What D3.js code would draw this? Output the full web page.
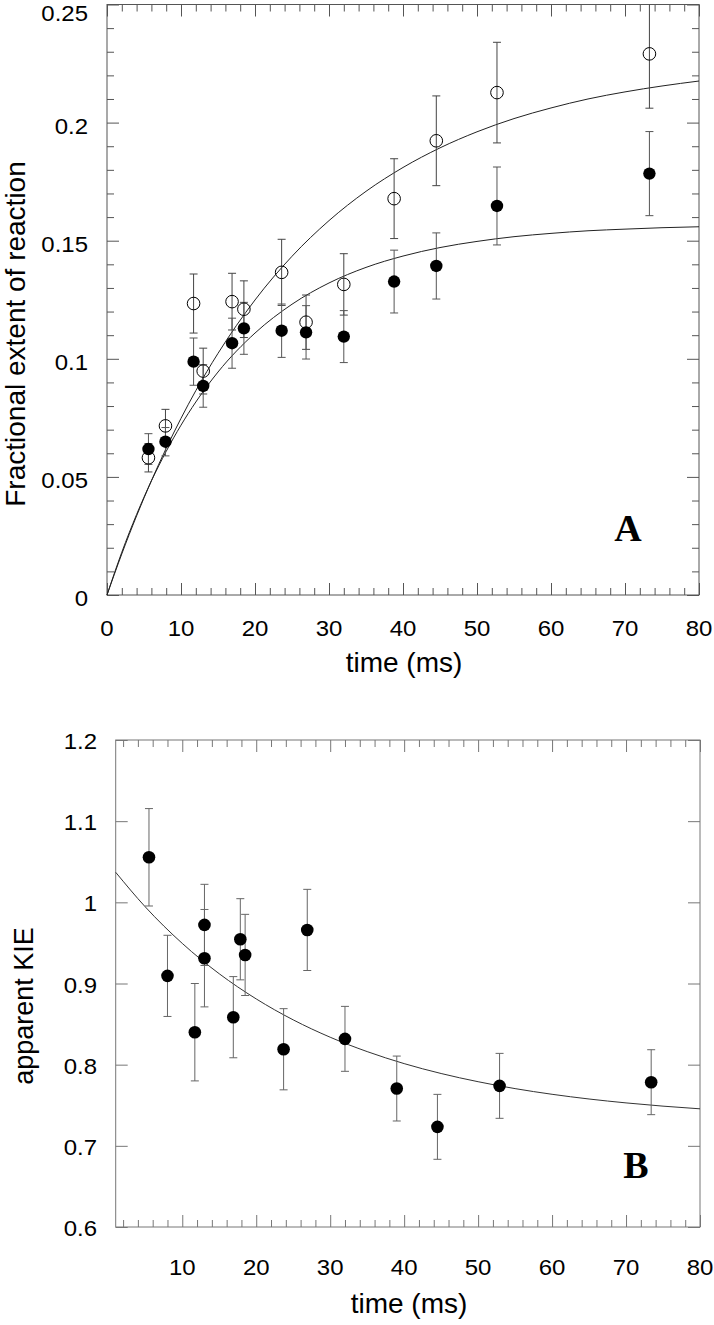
<!DOCTYPE html>
<html><head><meta charset="utf-8">
<script src="https://cdn.jsdelivr.net/npm/d3@7"></script>
<style>
html,body{margin:0;padding:0;background:#fff;}
svg{display:block;}
text{font-family:"Liberation Sans",Arial,Helvetica,sans-serif;fill:#000;}
</style></head>
<body>
<svg id="chart" width="714" height="1325"></svg>
<script>
// ---------- Panel A data ----------
const timeA      = [5.6, 7.9, 11.7, 13.0, 16.9, 18.5, 23.6, 26.9, 32.0, 38.8, 44.5, 52.7, 73.3];
const openA      = [0.0581, 0.0716, 0.1234, 0.0948, 0.1242, 0.1210, 0.1366, 0.1155, 0.1315, 0.1678, 0.1923, 0.2127, 0.2291];
const openErrA   = [0.006, 0.007, 0.0125, 0.0097, 0.012, 0.012, 0.014, 0.0115, 0.013, 0.0169, 0.019, 0.0213, 0.023];
const filledA    = [0.0618, 0.0649, 0.0988, 0.0885, 0.1066, 0.1129, 0.1119, 0.1112, 0.1094, 0.1327, 0.1393, 0.1647, 0.1784];
const filledErrA = [0.0065, 0.006, 0.010, 0.009, 0.0106, 0.011, 0.0113, 0.0113, 0.011, 0.0133, 0.014, 0.0165, 0.0178];
// fitted curves
const fitTimeA   = [0, 2, 4, 6, 8, 10, 12, 15, 20, 25, 30, 35, 40, 45, 50, 55, 60, 65, 70, 75, 80];
const fitOpenA   = [0, 0.0174, 0.0335, 0.0484, 0.0621, 0.0748, 0.0865, 0.1023, 0.1249, 0.1434, 0.1585, 0.1709, 0.1810, 0.1893, 0.1961, 0.2017, 0.2062, 0.2100, 0.2130, 0.2155, 0.2176];
const fitFilledA = [0, 0.0181, 0.0341, 0.0483, 0.0608, 0.0719, 0.0817, 0.0944, 0.1109, 0.1231, 0.1321, 0.1387, 0.1435, 0.1471, 0.1497, 0.1517, 0.1531, 0.1542, 0.1549, 0.1555, 0.1559];
const xTicksA = [0, 10, 20, 30, 40, 50, 60, 70, 80];
const yTicksA = [0, 0.05, 0.1, 0.15, 0.2, 0.25];
const yTickLabelsA = ["0", "0.05", "0.1", "0.15", "0.2", "0.25"];

// ---------- Panel B data ----------
const timeB = [5.5, 8.0, 11.7, 13.0, 13.0, 16.9, 17.85, 18.5, 23.7, 26.9, 32.0, 39.0, 44.5, 52.9, 73.4];
const kieB  = [1.0555, 0.9094, 0.840, 0.9722, 0.9312, 0.8585, 0.9545, 0.9352, 0.819, 0.966, 0.8318, 0.7706, 0.7234, 0.7739, 0.7784];
const errB  = [0.06, 0.05, 0.06, 0.05, 0.06, 0.05, 0.05, 0.05, 0.05, 0.05, 0.04, 0.04, 0.04, 0.04, 0.04];
const fitTimeB = [1, 5, 10, 15, 20, 25, 30, 35, 40, 45, 50, 55, 60, 65, 70, 75, 80];
const fitKieB  = [1.0370, 0.9944, 0.9494, 0.9120, 0.8810, 0.8552, 0.8338, 0.8161, 0.8013, 0.7891, 0.7790, 0.7705, 0.7635, 0.7577, 0.7529, 0.7489, 0.7456];
const xTicksB = [10, 20, 30, 40, 50, 60, 70, 80];
const yTicksB = [0.6, 0.7, 0.8, 0.9, 1.0, 1.1, 1.2];
const yTickLabelsB = ["0.6", "0.7", "0.8", "0.9", "1", "1.1", "1.2"];

const svg = d3.select("#chart");
const MAJ = 12, MIN = 7;
const STRETCH = 1.09;

function frame(g, x, y, color, xMinor, yMinorL, yMinorR, xMajor, yMajor) {
  const [x0, x1] = x.range(), [y0, y1] = y.range();
  const add = (ax, tr) => {
    const a = g.append("g").attr("transform", tr).call(ax);
    a.select(".domain").remove();
    a.selectAll("line").attr("stroke", color).attr("stroke-width", 1);
  };
  add(d3.axisBottom(x).tickValues(xMajor).tickSize(-MAJ).tickFormat(""), `translate(0,${y0})`);
  add(d3.axisBottom(x).tickValues(xMinor).tickSize(-MIN).tickFormat(""), `translate(0,${y0})`);
  add(d3.axisTop(x).tickValues(xMajor).tickSize(-MAJ).tickFormat(""), `translate(0,${y1})`);
  add(d3.axisTop(x).tickValues(xMinor).tickSize(-MIN).tickFormat(""), `translate(0,${y1})`);
  add(d3.axisLeft(y).tickValues(yMajor).tickSize(-MAJ).tickFormat(""), `translate(${x0},0)`);
  add(d3.axisLeft(y).tickValues(yMinorL).tickSize(-MIN).tickFormat(""), `translate(${x0},0)`);
  add(d3.axisRight(y).tickValues(yMajor).tickSize(-MAJ).tickFormat(""), `translate(${x1},0)`);
  add(d3.axisRight(y).tickValues(yMinorR).tickSize(-MIN).tickFormat(""), `translate(${x1},0)`);
  g.append("rect").attr("x", x0).attr("y", y1).attr("width", x1 - x0).attr("height", y0 - y1)
    .attr("fill", "none").attr("stroke", color).attr("stroke-width", 1);
}

function tickLabel(g, x, y, str, anchor) {
  g.append("text").attr("transform", `translate(${x},${y}) scale(${STRETCH},1)`)
    .attr("text-anchor", anchor).attr("font-size", 22).text(str);
}

function errorBars(g, x, y, t, v, e, color, clipTop) {
  const cap = 4;
  t.forEach((ti, i) => {
    const cx = x(ti);
    let hi = v[i] + e[i], lo = v[i] - e[i];
    const topClipped = clipTop !== undefined && hi > clipTop;
    if (topClipped) hi = clipTop;
    g.append("line").attr("x1", cx).attr("x2", cx).attr("y1", y(hi)).attr("y2", y(lo))
      .attr("stroke", color).attr("stroke-width", 1);
    if (!topClipped)
      g.append("line").attr("x1", cx - cap).attr("x2", cx + cap).attr("y1", y(hi)).attr("y2", y(hi))
        .attr("stroke", color).attr("stroke-width", 1);
    g.append("line").attr("x1", cx - cap).attr("x2", cx + cap).attr("y1", y(lo)).attr("y2", y(lo))
      .attr("stroke", color).attr("stroke-width", 1);
  });
}

// ================= Panel A =================
const xA = d3.scaleLinear().domain([0, 80]).range([107, 699]);
const yA = d3.scaleLinear().domain([0, 0.25]).range([595, 4.5]);
const gA = svg.append("g");
const minorXA = d3.range(0, 81, 2).filter(v => v % 10 !== 0);
const minorYA = d3.range(0, 26).map(v => v / 100).filter((v, i) => i % 5 !== 0);
frame(gA, xA, yA, "#555", minorXA, minorYA, minorYA, xTicksA, yTicksA);

xTicksA.forEach(d => tickLabel(gA, xA(d), 636, d, "middle"));
yTicksA.forEach((d, i) => tickLabel(gA, 88, Math.max(yA(d) + 11, 21), yTickLabelsA[i], "end"));
gA.append("text").attr("x", 404).attr("y", 672).attr("text-anchor", "middle")
  .attr("font-size", 28).text("time (ms)");
gA.append("text").attr("transform", "translate(25,334) rotate(-90)").attr("text-anchor", "middle")
  .attr("font-size", 28).text("Fractional extent of reaction");
gA.append("text").attr("x", 628).attr("y", 541).attr("text-anchor", "middle")
  .style("font-family", "'Liberation Serif','Times New Roman',serif").attr("font-weight", "bold")
  .attr("font-size", 38).text("A");

const lineA = (vals) => d3.line().x((d, i) => xA(fitTimeA[i])).y(d => yA(d)).curve(d3.curveMonotoneX)(vals);
gA.append("path").attr("d", lineA(fitOpenA)).attr("fill", "none").attr("stroke", "#222").attr("stroke-width", 1);
gA.append("path").attr("d", lineA(fitFilledA)).attr("fill", "none").attr("stroke", "#222").attr("stroke-width", 1);

errorBars(gA, xA, yA, timeA, openA, openErrA, "#444", 0.25);
errorBars(gA, xA, yA, timeA, filledA, filledErrA, "#555", 0.25);

gA.selectAll(".oc").data(timeA).join("circle")
  .attr("cx", d => xA(d)).attr("cy", (d, i) => yA(openA[i])).attr("r", 6.3)
  .attr("fill", "none").attr("stroke", "#000").attr("stroke-width", 1);
gA.selectAll(".fc").data(timeA).join("circle")
  .attr("cx", d => xA(d)).attr("cy", (d, i) => yA(filledA[i])).attr("r", 6.2)
  .attr("fill", "#000");

// ================= Panel B =================
const xB = d3.scaleLinear().domain([1, 80]).range([115.7, 700]);
const yB = d3.scaleLinear().domain([0.6, 1.2]).range([1227, 740]);
const gB = svg.append("g");
const minorXB = d3.range(2, 81, 2).filter(v => v % 10 !== 0);
frame(gB, xB, yB, "#777", minorXB, [], [], xTicksB, yTicksB);

xTicksB.forEach(d => tickLabel(gB, xB(d), 1275, d, "middle"));
yTicksB.forEach((d, i) => tickLabel(gB, 97, yB(d) + 9, yTickLabelsB[i], "end"));
gB.append("text").attr("x", 409).attr("y", 1313).attr("text-anchor", "middle")
  .attr("font-size", 28).text("time (ms)");
gB.append("text").attr("transform", "translate(33,1006) rotate(-90)").attr("text-anchor", "middle")
  .attr("font-size", 27).text("apparent KIE");
gB.append("text").attr("x", 636).attr("y", 1178).attr("text-anchor", "middle")
  .style("font-family", "'Liberation Serif','Times New Roman',serif").attr("font-weight", "bold")
  .attr("font-size", 38).text("B");

gB.append("path")
  .attr("d", d3.line().x((d, i) => xB(fitTimeB[i])).y(d => yB(d)).curve(d3.curveMonotoneX)(fitKieB))
  .attr("fill", "none").attr("stroke", "#333").attr("stroke-width", 1);

errorBars(gB, xB, yB, timeB, kieB, errB, "#666");
gB.selectAll(".fc").data(timeB).join("circle")
  .attr("cx", d => xB(d)).attr("cy", (d, i) => yB(kieB[i])).attr("r", 6.3)
  .attr("fill", "#000");
</script>
</body></html>
